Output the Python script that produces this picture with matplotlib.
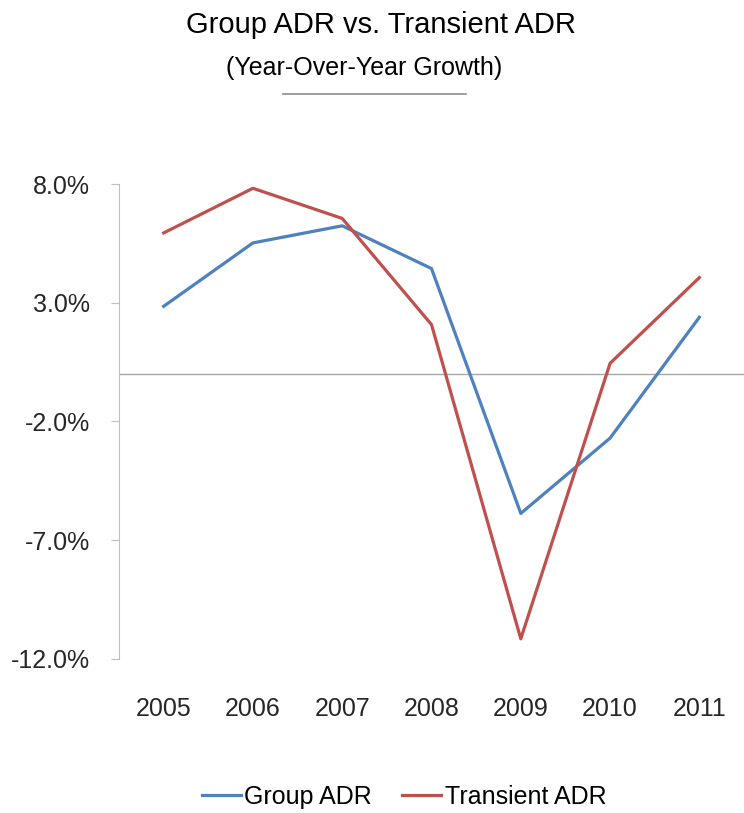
import matplotlib
matplotlib.use('Agg')
from matplotlib import pyplot as plt
from matplotlib.lines import Line2D

plt.rcParams['font.family'] = ['Liberation Sans', 'DejaVu Sans']

years = ['2005', '2006', '2007', '2008', '2009', '2010', '2011']
group_adr = [2.85, 5.52, 6.24, 4.44, -5.87, -2.70, 2.39]
transient_adr = [5.94, 7.82, 6.55, 2.08, -11.15, 0.45, 4.06]
y_ticks = [8.0, 3.0, -2.0, -7.0, -12.0]

blue = '#4F81BD'
red = '#C0504D'

fig = plt.figure(figsize=(7.44, 8.13), dpi=100)
ax = fig.add_axes([119 / 744, 1 - 659 / 813, 1 - 119 / 744, 475 / 813])

x = range(len(years))
ax.plot(x, group_adr, color=blue, lw=2.3, label='Group ADR')
ax.plot(x, transient_adr, color=red, lw=2.3, label='Transient ADR')

ax.set_xlim(-0.5, len(years) - 0.5)
ax.set_ylim(-12, 8)
ax.axhline(0, color='#a6a6a6', lw=1.0, zorder=0)

ax.set_yticks(y_ticks)
ax.set_yticklabels([f'{v:.1f}%' for v in y_ticks])
ax.set_xticks(list(x))
ax.set_xticklabels(years)

for side in ['top', 'right', 'bottom']:
    ax.spines[side].set_visible(False)
ax.spines['left'].set_color('#bfbfbf')
ax.spines['left'].set_linewidth(0.8)
ax.tick_params(axis='y', length=6, color='#bfbfbf', labelsize=18, pad=15, labelcolor='#262626')
ax.tick_params(axis='x', length=0, labelsize=18, pad=27, labelcolor='#262626')

# titles
fig.text(381 / 744, 1 - 33 / 813, 'Group ADR vs. Transient ADR', ha='center', va='baseline',
         fontsize=21, color='black')
fig.text(364 / 744, 1 - 75 / 813, '(Year-Over-Year Growth)', ha='center', va='baseline',
         fontsize=18, color='black')
fig.add_artist(Line2D([283 / 744, 466 / 744], [1 - 94 / 813, 1 - 94 / 813],
                      transform=fig.transFigure, color='#8c8c8c', lw=1.2))

fig.legend(loc='center', bbox_to_anchor=(404 / 744, 1 - 797 / 813), ncol=2, frameon=False,
           fontsize=18, handlelength=1.55, handletextpad=0.15, columnspacing=1.2)

fig.savefig('out.png', dpi=100, facecolor='white')
